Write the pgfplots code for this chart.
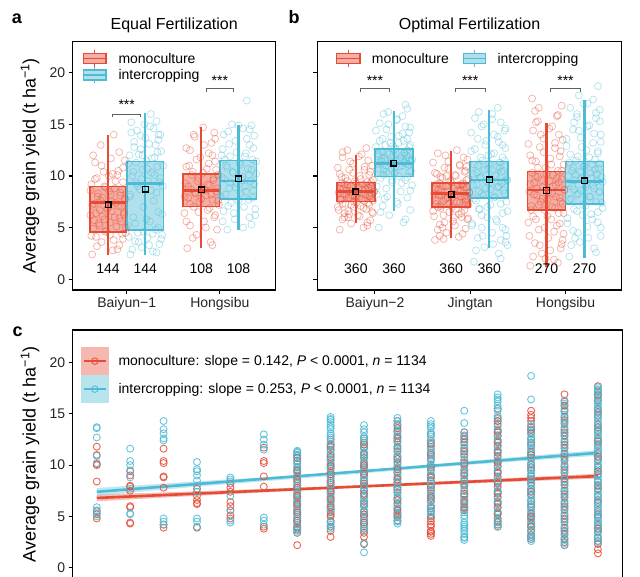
\documentclass[border=0pt]{standalone}
\usepackage{pgfplots}
\pgfplotsset{compat=1.18}
\usepackage{pgfplotstable}
\usepackage{fontspec}
\setmainfont{Liberation Sans}
\definecolor{cr}{RGB}{230,75,53}
\definecolor{cb}{RGB}{77,187,213}
\definecolor{brk}{RGB}{95,95,95}
\newcommand\fs{\fontsize{14}{16}\selectfont}

% ---------- panel a jitter data (dx = offset from group centre) ----------
\pgfplotstableread[row sep=\\]{dx y\\
-0.17 2.4\\ 0.05 2.8\\ 0.12 3.3\\ -0.07 3.6\\ 0.16 3.9\\ -0.13 4.1\\ 0.02 4.3\\ 0.19 4.5\\ -0.02 4.7\\ -0.16 4.9\\
0.09 5.1\\ -0.10 5.4\\ 0.14 5.6\\ -0.04 5.8\\ 0.07 6.0\\ -0.19 6.2\\ 0.17 6.5\\ -0.09 6.7\\ 0.00 6.9\\ 0.11 7.1\\
-0.15 7.3\\ 0.04 7.5\\ 0.18 7.7\\ -0.06 7.9\\ 0.13 8.1\\ -0.11 8.3\\ 0.01 8.5\\ 0.15 8.7\\ -0.03 8.9\\ -0.18 9.2\\
0.08 9.5\\ -0.12 9.8\\ 0.10 10.1\\ -0.05 10.4\\ 0.16 10.8\\ -0.14 11.3\\ 0.03 11.7\\ 0.12 12.3\\ -0.08 13.0\\ 0.06 14.0\\
0.10 2.9\\ -0.12 3.2\\ 0.06 3.8\\ -0.18 4.2\\ 0.15 4.4\\ -0.03 4.6\\ 0.19 5.0\\ -0.09 5.2\\ 0.02 5.5\\ -0.15 5.7\\
0.12 5.9\\ -0.06 6.1\\ 0.17 6.3\\ -0.13 6.4\\ 0.04 6.6\\ -0.01 6.8\\ 0.14 7.0\\ -0.17 7.2\\ 0.08 7.4\\ -0.08 7.6\\
0.18 7.8\\ -0.11 8.0\\ 0.03 8.2\\ 0.13 8.4\\ -0.19 8.6\\ 0.07 8.8\\ -0.04 9.0\\ 0.16 9.4\\ -0.14 9.7\\ 0.01 10.0\\
0.11 10.5\\ -0.07 11.0\\ 0.18 11.5\\ -0.16 12.0\\ 0.05 10.2\\
}\aBm
\pgfplotstableread[row sep=\\]{dx y\\
-0.16 2.4\\ 0.08 2.7\\ -0.04 3.1\\ 0.15 3.4\\ -0.11 3.7\\ 0.02 4.0\\ 0.18 4.3\\ -0.08 4.5\\ 0.11 4.8\\ -0.19 5.2\\
0.05 5.6\\ -0.13 6.0\\ 0.14 6.5\\ -0.02 7.0\\ 0.09 7.6\\ -0.17 8.0\\ 0.12 8.4\\ -0.06 8.7\\ 0.19 9.0\\ -0.10 9.3\\
0.03 9.5\\ 0.16 9.8\\ -0.14 10.0\\ 0.07 10.3\\ -0.03 10.6\\ 0.13 10.9\\ -0.18 11.2\\ 0.01 11.5\\ 0.10 11.8\\ -0.07 12.1\\
0.17 12.4\\ -0.12 12.8\\ 0.04 13.1\\ 0.14 13.5\\ -0.05 13.9\\ -0.15 14.2\\ 0.09 14.6\\ -0.01 15.0\\ 0.12 15.3\\ 0.06 16.0\\
0.12 2.6\\ -0.14 2.9\\ 0.04 3.3\\ -0.07 3.6\\ 0.17 3.9\\ -0.18 4.1\\ 0.08 4.4\\ -0.02 4.6\\ 0.14 5.0\\ -0.11 5.4\\
0.01 5.8\\ 0.18 6.3\\ -0.16 8.2\\ 0.06 8.6\\ -0.08 9.0\\ 0.15 9.4\\ -0.04 9.7\\ 0.10 10.1\\ -0.13 10.4\\ 0.02 10.7\\
0.19 11.0\\ -0.10 11.3\\ 0.07 11.7\\ -0.17 12.0\\ 0.13 12.3\\ -0.05 12.6\\ 0.11 13.0\\ -0.12 13.3\\ 0.00 13.7\\ 0.16 14.0\\
-0.09 14.4\\ 0.05 14.8\\ -0.15 15.2\\ 0.14 14.0\\ -0.03 12.0\\
}\aBi
\pgfplotstableread[row sep=\\]{dx y\\
-0.15 3.0\\ 0.10 3.6\\ -0.05 4.3\\ 0.17 4.8\\ -0.12 5.2\\ 0.03 5.6\\ 0.14 6.0\\ -0.18 6.4\\ 0.07 6.7\\ -0.08 7.0\\
0.19 7.2\\ -0.02 7.5\\ 0.12 7.7\\ -0.14 7.9\\ 0.05 8.1\\ -0.06 8.3\\ 0.16 8.5\\ -0.11 8.7\\ 0.01 8.9\\ 0.09 9.1\\
-0.17 9.3\\ 0.13 9.6\\ -0.03 9.8\\ 0.18 10.1\\ -0.09 10.4\\ 0.06 10.7\\ -0.13 11.0\\ 0.15 11.4\\ -0.01 11.8\\ 0.08 12.2\\
-0.16 12.7\\ 0.11 13.2\\ -0.07 13.8\\ 0.14 14.2\\ 0.02 14.7\\
0.12 3.3\\ -0.09 4.0\\ 0.05 5.0\\ -0.16 5.6\\ 0.15 6.2\\ -0.03 6.5\\ 0.09 6.9\\ -0.12 7.3\\ 0.18 7.6\\ 0.00 7.8\\
-0.18 8.0\\ 0.11 8.2\\ -0.07 8.4\\ 0.04 8.6\\ 0.17 8.8\\ -0.14 9.0\\ 0.07 9.2\\ -0.04 9.5\\ 0.13 9.8\\ -0.10 10.1\\
0.02 10.3\\ 0.16 10.6\\ -0.16 10.9\\ 0.08 11.2\\ -0.05 11.6\\ 0.12 12.0\\ -0.12 12.5\\ 0.03 13.0\\ 0.15 13.6\\ -0.08 14.0\\
}\aHm
\pgfplotstableread[row sep=\\]{dx y\\
-0.12 4.8\\ 0.14 5.3\\ -0.04 5.8\\ 0.18 6.2\\ -0.16 6.6\\ 0.06 7.0\\ -0.08 7.4\\ 0.11 7.7\\ -0.19 8.0\\ 0.02 8.3\\
0.16 8.6\\ -0.10 8.8\\ 0.07 9.0\\ -0.02 9.3\\ 0.13 9.5\\ -0.15 9.7\\ 0.04 9.9\\ 0.19 10.2\\ -0.06 10.4\\ 0.10 10.7\\
-0.13 11.0\\ 0.01 11.3\\ 0.15 11.6\\ -0.09 11.9\\ 0.08 12.2\\ -0.17 12.6\\ 0.12 13.0\\ -0.03 13.4\\ 0.17 13.9\\ -0.11 14.3\\
0.05 14.6\\ 0.14 14.9\\ -0.07 15.0\\ -0.18 12.0\\ 0.09 17.3\\
0.05 5.0\\ -0.17 5.6\\ 0.12 6.0\\ -0.05 6.4\\ 0.18 6.8\\ -0.11 7.1\\ 0.00 7.6\\ 0.15 7.9\\ -0.14 8.2\\ 0.08 8.5\\
-0.03 8.9\\ 0.17 9.2\\ -0.09 9.4\\ 0.04 9.6\\ -0.18 9.9\\ 0.11 10.1\\ -0.06 10.3\\ 0.14 10.6\\ -0.12 10.8\\ 0.02 11.1\\
0.19 11.4\\ -0.15 11.6\\ 0.07 11.9\\ -0.02 12.3\\ 0.16 12.7\\ -0.10 13.1\\ 0.09 13.6\\ -0.16 14.0\\ 0.12 14.5\\ 0.00 14.9\\
}\aHi
% ---------- panel b jitter data ----------
\pgfplotstableread[row sep=\\]{dx y\\
-0.17 4.8\\ 0.08 5.0\\ -0.05 5.4\\ 0.15 5.7\\ -0.12 6.0\\ 0.02 6.2\\ 0.18 6.4\\ -0.08 6.6\\ 0.11 6.8\\ -0.19 7.0\\
0.05 7.1\\ -0.14 7.3\\ 0.13 7.4\\ -0.02 7.5\\ 0.09 7.6\\ -0.16 7.7\\ 0.17 7.8\\ -0.06 7.9\\ 0.01 8.0\\ 0.14 8.1\\
-0.10 8.2\\ 0.06 8.3\\ -0.18 8.4\\ 0.19 8.5\\ -0.04 8.6\\ 0.10 8.7\\ -0.13 8.8\\ 0.03 8.9\\ 0.16 9.0\\ -0.09 9.1\\
0.07 9.2\\ -0.15 9.3\\ 0.12 9.4\\ -0.01 9.5\\ 0.18 9.6\\ -0.11 9.8\\ 0.04 10.0\\ -0.17 10.2\\ 0.15 10.4\\ -0.07 10.6\\
0.09 10.9\\ -0.03 11.2\\ 0.13 11.5\\ -0.14 11.8\\ 0.06 12.1\\ -0.09 12.5\\ 0.11 12.7\\ -0.12 6.4\\ 0.15 9.2\\ -0.05 7.2\\
0.12 5.2\\ -0.14 5.8\\ 0.04 6.1\\ -0.07 6.3\\ 0.17 6.5\\ -0.18 6.7\\ 0.08 6.9\\ -0.02 7.0\\ 0.14 7.2\\ -0.11 7.3\\
0.01 7.4\\ 0.18 7.6\\ -0.16 7.7\\ 0.06 7.8\\ -0.08 7.9\\ 0.15 8.0\\ -0.04 8.1\\ 0.10 8.2\\ -0.13 8.3\\ 0.02 8.4\\
0.19 8.5\\ -0.10 8.6\\ 0.07 8.7\\ -0.17 8.8\\ 0.13 8.9\\ -0.05 9.0\\ 0.11 9.1\\ -0.12 9.2\\ 0.00 9.3\\ 0.16 9.4\\
-0.09 9.5\\ 0.05 9.7\\ -0.15 9.9\\ 0.14 10.1\\ -0.03 10.3\\ 0.09 10.6\\ -0.19 10.8\\ 0.17 11.0\\ -0.06 11.4\\ 0.03 11.9\\
-0.14 12.3\\ 0.12 5.5\\ -0.08 6.0\\ 0.16 8.3\\ -0.01 8.0\\
}\bBm
\pgfplotstableread[row sep=\\]{dx y\\
-0.16 5.0\\ 0.10 5.5\\ -0.05 6.2\\ 0.17 6.7\\ -0.12 7.1\\ 0.03 7.5\\ 0.14 7.9\\ -0.18 8.2\\ 0.07 8.5\\ -0.08 8.8\\
0.19 9.1\\ -0.02 9.4\\ 0.12 9.6\\ -0.14 9.8\\ 0.05 10.0\\ -0.06 10.2\\ 0.16 10.4\\ -0.11 10.6\\ 0.01 10.8\\ 0.09 11.0\\
-0.17 11.1\\ 0.13 11.2\\ -0.03 11.3\\ 0.18 11.4\\ -0.09 11.5\\ 0.06 11.6\\ -0.13 11.7\\ 0.15 11.8\\ -0.01 11.9\\ 0.08 12.0\\
-0.16 12.1\\ 0.11 12.2\\ -0.07 12.3\\ 0.14 12.5\\ 0.02 12.6\\ -0.19 12.8\\ 0.17 13.0\\ -0.04 13.2\\ 0.10 13.4\\ -0.12 13.6\\
0.05 13.9\\ 0.16 14.2\\ -0.08 14.5\\ 0.12 14.8\\ -0.15 15.1\\ 0.03 15.4\\ 0.09 15.8\\ -0.06 16.2\\ 0.14 16.5\\ -0.10 7.8\\
0.12 5.8\\ -0.14 6.5\\ 0.04 7.3\\ -0.07 8.0\\ 0.17 8.6\\ -0.18 9.0\\ 0.08 9.3\\ -0.02 9.6\\ 0.14 9.9\\ -0.11 10.1\\
0.01 10.3\\ 0.18 10.5\\ -0.16 10.7\\ 0.06 10.9\\ -0.08 11.0\\ 0.15 11.1\\ -0.04 11.2\\ 0.10 11.3\\ -0.13 11.4\\ 0.02 11.5\\
0.19 11.6\\ -0.10 11.7\\ 0.07 11.8\\ -0.17 11.9\\ 0.13 12.0\\ -0.05 12.1\\ 0.11 12.2\\ -0.12 12.4\\ 0.00 12.6\\ 0.16 12.8\\
-0.09 13.0\\ 0.05 13.2\\ -0.15 13.4\\ 0.14 13.6\\ -0.03 13.8\\ 0.09 14.1\\ -0.19 14.4\\ 0.17 14.7\\ -0.06 15.0\\ 0.03 15.5\\
-0.11 16.0\\ 0.12 16.9\\ -0.08 10.4\\ 0.16 11.5\\ -0.01 12.9\\
}\bBi
\pgfplotstableread[row sep=\\]{dx y\\
-0.17 3.8\\ 0.08 4.1\\ -0.05 4.5\\ 0.15 4.9\\ -0.12 5.3\\ 0.02 5.6\\ 0.18 5.9\\ -0.08 6.2\\ 0.11 6.4\\ -0.19 6.6\\
0.05 6.8\\ -0.14 7.0\\ 0.13 7.1\\ -0.02 7.3\\ 0.09 7.4\\ -0.16 7.6\\ 0.17 7.7\\ -0.06 7.8\\ 0.01 7.9\\ 0.14 8.0\\
-0.10 8.1\\ 0.06 8.2\\ -0.18 8.3\\ 0.19 8.4\\ -0.04 8.5\\ 0.10 8.6\\ -0.13 8.7\\ 0.03 8.8\\ 0.16 8.9\\ -0.09 9.0\\
0.07 9.1\\ -0.15 9.2\\ 0.12 9.3\\ -0.01 9.5\\ 0.18 9.7\\ -0.11 9.9\\ 0.04 10.1\\ -0.17 10.3\\ 0.15 10.5\\ -0.07 10.8\\
0.09 11.1\\ -0.03 11.4\\ 0.13 11.8\\ -0.14 12.2\\ 0.06 12.5\\ -0.09 5.0\\ 0.11 6.0\\ -0.12 4.2\\ 0.15 7.5\\ -0.05 10.0\\
0.12 4.4\\ -0.14 4.8\\ 0.04 5.2\\ -0.07 5.5\\ 0.17 5.8\\ -0.18 6.1\\ 0.08 6.3\\ -0.02 6.5\\ 0.14 6.7\\ -0.11 6.9\\
0.01 7.0\\ 0.18 7.2\\ -0.16 7.3\\ 0.06 7.5\\ -0.08 7.6\\ 0.15 7.8\\ -0.04 7.9\\ 0.10 8.0\\ -0.13 8.2\\ 0.02 8.3\\
0.19 8.4\\ -0.10 8.5\\ 0.07 8.6\\ -0.17 8.8\\ 0.13 8.9\\ -0.05 9.0\\ 0.11 9.2\\ -0.12 9.3\\ 0.00 9.4\\ 0.16 9.6\\
-0.09 9.8\\ 0.05 10.0\\ -0.15 10.2\\ 0.14 10.4\\ -0.03 10.7\\ 0.09 11.0\\ -0.19 11.3\\ 0.17 11.6\\ -0.06 12.0\\ 0.03 6.0\\
-0.11 7.1\\ 0.12 9.1\\ -0.08 3.9\\ 0.16 10.9\\ -0.01 8.1\\
}\bJm
\pgfplotstableread[row sep=\\]{dx y\\
-0.16 1.7\\ 0.10 2.5\\ -0.05 3.1\\ 0.17 3.6\\ -0.12 4.0\\ 0.03 4.5\\ 0.14 5.0\\ -0.18 5.4\\ 0.07 5.8\\ -0.08 6.2\\
0.19 6.6\\ -0.02 7.0\\ 0.12 7.3\\ -0.14 7.6\\ 0.05 7.9\\ -0.06 8.1\\ 0.16 8.3\\ -0.11 8.5\\ 0.01 8.7\\ 0.09 8.9\\
-0.17 9.1\\ 0.13 9.3\\ -0.03 9.5\\ 0.18 9.7\\ -0.09 9.9\\ 0.06 10.1\\ -0.13 10.3\\ 0.15 10.5\\ -0.01 10.7\\ 0.08 10.9\\
-0.16 11.1\\ 0.11 11.3\\ -0.07 11.5\\ 0.14 11.8\\ 0.02 12.1\\ -0.19 12.4\\ 0.17 12.7\\ -0.04 13.0\\ 0.10 13.3\\ -0.12 13.6\\
0.05 14.0\\ 0.16 14.4\\ -0.08 14.8\\ 0.12 15.2\\ -0.15 15.6\\ 0.03 16.0\\ 0.09 16.6\\ 0.19 3.3\\ 0.18 4.2\\ -0.10 6.8\\
0.12 2.0\\ -0.14 2.8\\ 0.04 3.4\\ -0.07 4.2\\ 0.17 4.8\\ -0.18 5.2\\ 0.08 5.6\\ -0.02 6.0\\ 0.14 6.4\\ -0.11 6.8\\
0.01 7.2\\ 0.18 7.5\\ -0.16 7.8\\ 0.06 8.0\\ -0.08 8.3\\ 0.15 8.6\\ -0.04 8.8\\ 0.10 9.0\\ -0.13 9.2\\ 0.02 9.4\\
0.19 9.6\\ -0.10 9.8\\ 0.07 10.0\\ -0.17 10.2\\ 0.13 10.4\\ -0.05 10.6\\ 0.11 10.8\\ -0.12 11.0\\ 0.00 11.2\\ 0.16 11.5\\
-0.09 11.8\\ 0.05 12.2\\ -0.15 12.6\\ 0.14 13.0\\ -0.03 13.4\\ 0.09 13.8\\ -0.19 14.2\\ 0.17 14.6\\ -0.06 15.0\\ 0.03 15.5\\
-0.11 16.2\\ 0.12 3.8\\ -0.08 5.0\\ 0.16 9.5\\ -0.01 12.0\\
}\bJi
\pgfplotstableread[row sep=\\]{dx y\\
-0.17 1.3\\ 0.08 1.9\\ -0.05 2.5\\ 0.15 3.0\\ -0.12 3.5\\ 0.02 4.0\\ 0.18 4.4\\ -0.08 4.8\\ 0.11 5.2\\ -0.19 5.5\\
0.05 5.8\\ -0.14 6.1\\ 0.13 6.4\\ -0.02 6.7\\ 0.09 6.9\\ -0.16 7.1\\ 0.17 7.3\\ -0.06 7.5\\ 0.01 7.7\\ 0.14 7.9\\
-0.10 8.1\\ 0.06 8.3\\ -0.18 8.5\\ 0.19 8.7\\ -0.04 8.9\\ 0.10 9.1\\ -0.13 9.3\\ 0.03 9.5\\ 0.16 9.7\\ -0.09 9.9\\
0.07 10.1\\ -0.15 10.3\\ 0.12 10.5\\ -0.01 10.8\\ 0.18 11.1\\ -0.11 11.4\\ 0.04 11.7\\ -0.17 12.0\\ 0.15 12.4\\ -0.07 12.8\\
0.09 13.2\\ -0.03 13.6\\ 0.13 14.0\\ -0.14 14.4\\ 0.06 14.8\\ -0.09 15.3\\ 0.11 15.8\\ -0.12 16.3\\ 0.16 16.8\\ -0.15 17.5\\
0.12 1.6\\ -0.14 2.2\\ 0.04 2.8\\ -0.07 3.3\\ 0.17 3.8\\ -0.18 4.2\\ 0.08 4.6\\ -0.02 5.0\\ 0.14 5.4\\ -0.11 5.8\\
0.01 6.1\\ 0.18 6.4\\ -0.16 6.7\\ 0.06 7.0\\ -0.08 7.2\\ 0.15 7.5\\ -0.04 7.8\\ 0.10 8.0\\ -0.13 8.2\\ 0.02 8.4\\
0.19 8.6\\ -0.10 8.8\\ 0.07 9.0\\ -0.17 9.2\\ 0.13 9.4\\ -0.05 9.6\\ 0.11 9.8\\ -0.12 10.0\\ 0.00 10.2\\ 0.16 10.5\\
-0.09 10.8\\ 0.05 11.1\\ -0.15 11.5\\ 0.14 11.9\\ -0.03 12.3\\ 0.09 12.7\\ -0.19 13.1\\ 0.17 13.5\\ -0.06 14.0\\ 0.03 14.6\\
-0.11 15.2\\ 0.12 15.9\\ -0.08 16.6\\ 0.16 3.4\\ -0.01 2.0\\
}\bHm
\pgfplotstableread[row sep=\\]{dx y\\
-0.16 2.2\\ 0.10 3.0\\ -0.05 3.6\\ 0.17 4.2\\ -0.12 4.7\\ 0.03 5.1\\ 0.14 5.5\\ -0.18 5.9\\ 0.07 6.3\\ -0.08 6.6\\
0.19 6.9\\ -0.02 7.2\\ 0.12 7.5\\ -0.14 7.8\\ 0.05 8.0\\ -0.06 8.3\\ 0.16 8.5\\ -0.11 8.7\\ 0.01 8.9\\ 0.09 9.1\\
-0.17 9.3\\ 0.13 9.5\\ -0.03 9.7\\ 0.18 9.9\\ -0.09 10.1\\ 0.06 10.3\\ -0.13 10.5\\ 0.15 10.7\\ -0.01 10.9\\ 0.08 11.1\\
-0.16 11.3\\ 0.11 11.6\\ -0.07 11.9\\ 0.14 12.2\\ 0.02 12.5\\ -0.19 12.9\\ 0.17 13.3\\ -0.04 13.7\\ 0.10 14.1\\ -0.12 14.5\\
0.05 14.9\\ 0.16 15.3\\ -0.08 15.7\\ 0.12 16.1\\ -0.15 16.6\\ 0.03 17.0\\ 0.09 17.4\\ -0.06 17.8\\ 0.14 18.7\\ -0.10 4.0\\
0.12 2.6\\ -0.14 3.3\\ 0.04 4.0\\ -0.07 4.5\\ 0.17 5.0\\ -0.18 5.4\\ 0.08 5.8\\ -0.02 6.2\\ 0.14 6.5\\ -0.11 6.8\\
0.01 7.1\\ 0.18 7.4\\ -0.16 7.7\\ 0.06 8.0\\ -0.08 8.2\\ 0.15 8.4\\ -0.04 8.6\\ 0.10 8.8\\ -0.13 9.0\\ 0.02 9.2\\
0.19 9.4\\ -0.10 9.6\\ 0.07 9.8\\ -0.17 10.0\\ 0.13 10.2\\ -0.05 10.4\\ 0.11 10.6\\ -0.12 10.8\\ 0.00 11.0\\ 0.16 11.2\\
-0.09 11.5\\ 0.05 11.8\\ -0.15 12.1\\ 0.14 12.4\\ -0.03 12.8\\ 0.09 13.2\\ -0.19 13.6\\ 0.17 14.0\\ -0.06 14.4\\ 0.03 14.8\\
-0.11 15.2\\ 0.12 15.6\\ -0.08 16.0\\ 0.16 16.4\\ -0.01 17.0\\
}\bHi

\pgfplotsset{
  panel/.style={scale only axis, anchor=south west,
    axis line style={line width=1.2pt, black}, tick style={line width=1.1pt, black},
    tick align=outside, major tick length=4pt, xtick pos=bottom, ytick pos=left,
    ymin=-1.04, ymax=23, ytick={0,5,10,15,20},
    /pgf/number format/assume math mode=true,
    ticklabel style={font=\fs, text=black!85},
    ylabel style={anchor=center, font=\fontsize{18}{20}\selectfont},
  },
  jit/.style={only marks, mark=o, mark size=3.5pt, line width=0.75pt, opacity=0.42},
  cpt/.style={only marks, mark=o, mark size=3.5pt, line width=0.9pt, opacity=0.85},
}
% box: colour, centre, left, right, lower whisker, q1, median, q3, upper whisker
\newcommand\bx[9]{%
  \addplot[#1, line width=2.2pt] coordinates {(#2,#5)(#2,#9)};
  \addplot[draw=#1, fill=#1, fill opacity=0.45, line width=1.7pt] coordinates {(#3,#6)(#4,#6)(#4,#8)(#3,#8)} -- cycle;
  \addplot[#1, line width=2.7pt] coordinates {(#3,#7)(#4,#7)};
}
\newcommand\mn[2]{\addplot[black, only marks, mark=square, mark size=2.9pt, line width=1.2pt] coordinates {(#1,#2)};}

\begin{document}
\begin{tikzpicture}
% ================= panel a =================
\begin{axis}[panel, at={(72.7pt,286pt)}, width=203pt, height=248.3pt,
  xmin=0.42, xmax=2.6, xtick={1,2}, xticklabels={Baiyun−1,Hongsibu},
  ylabel={Average grain yield (t ha\textsuperscript{−1})},
  ylabel style={at={(axis description cs:-0.2103,0.5)}}]
\addplot[jit, cr] table[x expr=\thisrow{dx}+0.8, y=y] {\aBm};
\addplot[jit, cb] table[x expr=\thisrow{dx}+1.2, y=y] {\aBi};
\addplot[jit, cr] table[x expr=\thisrow{dx}+1.8, y=y] {\aHm};
\addplot[jit, cb] table[x expr=\thisrow{dx}+2.2, y=y] {\aHi};
\bx{cr}{0.8}{0.605}{0.995}{2.35}{4.55}{7.46}{8.97}{14.0}
\bx{cb}{1.2}{1.005}{1.395}{2.35}{4.78}{9.3}{11.4}{16.1}
\bx{cr}{1.8}{1.605}{1.995}{3.0}{7.03}{8.59}{10.2}{14.7}
\bx{cb}{2.2}{2.005}{2.395}{4.78}{7.75}{9.52}{11.5}{14.95}
\mn{0.8}{7.2}\mn{1.2}{8.72}\mn{1.8}{8.65}\mn{2.2}{9.72}
\addplot[brk, line width=0.7pt] coordinates {(0.85,15.7)(0.85,16.0)(1.15,16.0)(1.15,15.7)};
\addplot[brk, line width=0.7pt] coordinates {(1.85,18.15)(1.85,18.5)(2.15,18.5)(2.15,18.15)};
\node[font=\fs, anchor=base] at (axis cs:1,16.43) {***};
\node[font=\fs, anchor=base] at (axis cs:2,18.8) {***};
\node[font=\fs] at (axis cs:0.8,1) {144};
\node[font=\fs] at (axis cs:1.2,1) {144};
\node[font=\fs] at (axis cs:1.8,1) {108};
\node[font=\fs] at (axis cs:2.2,1) {108};
\end{axis}
% ================= panel b =================
\begin{axis}[panel, at={(317.3pt,286pt)}, width=304.4pt, height=248.3pt,
  xmin=0.395, xmax=3.59, xtick={1,2,3}, xticklabels={Baiyun−2,Jingtan,Hongsibu},
  yticklabels={}]
\addplot[jit, cr] table[x expr=\thisrow{dx}+0.8, y=y] {\bBm};
\addplot[jit, cb] table[x expr=\thisrow{dx}+1.2, y=y] {\bBi};
\addplot[jit, cr] table[x expr=\thisrow{dx}+1.8, y=y] {\bJm};
\addplot[jit, cb] table[x expr=\thisrow{dx}+2.2, y=y] {\bJi};
\addplot[jit, cr] table[x expr=\thisrow{dx}+2.8, y=y] {\bHm};
\addplot[jit, cb] table[x expr=\thisrow{dx}+3.2, y=y] {\bHi};
\bx{cr}{0.8}{0.6}{1.0}{5.43}{7.52}{8.49}{9.36}{12.04}
\bx{cb}{1.2}{1.0}{1.4}{6.65}{9.94}{11.24}{12.63}{16.3}
\bx{cr}{1.8}{1.6}{2.0}{3.97}{6.98}{8.33}{9.3}{12.37}
\bx{cb}{2.2}{2.0}{2.4}{3.0}{7.85}{9.62}{11.4}{16.4}
\bx{cr}{2.8}{2.6}{3.0}{1.2}{6.71}{8.65}{10.43}{15.1}
\bx{cb}{3.2}{3.0}{3.4}{2.1}{7.3}{9.46}{11.4}{17.4}
\mn{0.8}{8.46}\mn{1.2}{11.24}\mn{1.8}{8.24}\mn{2.2}{9.62}\mn{2.8}{8.62}\mn{3.2}{9.52}
\addplot[brk, line width=0.7pt] coordinates {(0.846,18.15)(0.846,18.5)(1.154,18.5)(1.154,18.15)};
\addplot[brk, line width=0.7pt] coordinates {(1.846,18.15)(1.846,18.5)(2.154,18.5)(2.154,18.15)};
\addplot[brk, line width=0.7pt] coordinates {(2.846,18.15)(2.846,18.5)(3.154,18.5)(3.154,18.15)};
\node[font=\fs, anchor=base] at (axis cs:1,18.8) {***};
\node[font=\fs, anchor=base] at (axis cs:2,18.8) {***};
\node[font=\fs, anchor=base] at (axis cs:3,18.8) {***};
\node[font=\fs] at (axis cs:0.8,1) {360};
\node[font=\fs] at (axis cs:1.2,1) {360};
\node[font=\fs] at (axis cs:1.8,1) {360};
\node[font=\fs] at (axis cs:2.2,1) {360};
\node[font=\fs] at (axis cs:2.8,1) {270};
\node[font=\fs] at (axis cs:3.2,1) {270};
\end{axis}
% ================= panel c =================
\begin{axis}[panel, at={(72.7pt,-2.4pt)}, width=549.6pt, height=248.4pt,
  xmin=0.28, xmax=16.73, ymin=-1.04, ymax=23.17, xtick=\empty,
  ylabel={Average grain yield (t ha\textsuperscript{−1})},
  ylabel style={at={(axis description cs:-0.0777,0.5)}}]
% monoculture points
\addplot[cpt, cr] coordinates {
(1,11.8)(1,11.0)(1,10.1)(1,10.0)(1,8.4)(1,5.5)(1,5.2)(1,4.8)
(2,9.4)(2,9.0)(2,8.0)(2,7.9)(2,7.5)(2,6.0)(2,5.9)(2,4.4)(2,4.3)
(3,11.6)(3,10.4)(3,10.2)(3,8.9)(3,8.8)(3,7.8)(3,4.2)(3,3.9)
(4,7.7)(4,7.0)(4,6.6)(4,6.3)(4,6.2)(4,3.9)
(5,8.2)(5,7.8)(5,7.4)(5,6.4)(5,6.0)(5,5.6)(5,5.1)(5,4.8)
(6,11.7)(6,10.4)(6,10.2)(6,8.9)(6,7.9)(6,4.0)(6,3.8)
(7,11.0)(7,10.4)(7,9.8)(7,9.3)(7,8.9)(7,8.4)(7,8.0)(7,7.6)(7,7.2)(7,6.8)(7,6.4)(7,6.0)(7,5.6)(7,5.2)(7,4.8)(7,4.4)(7,4.0)(7,3.7)(7,3.4)(7,2.2)
(8,12.5)(8,12.0)(8,11.5)(8,11.0)(8,10.5)(8,10.1)(8,9.7)(8,9.3)(8,8.9)(8,8.5)(8,8.1)(8,7.7)(8,7.3)(8,6.9)(8,6.5)(8,6.1)(8,5.7)(8,5.4)(8,5.2)(8,4.5)(8,3.6)(8,3.0)
(9,12.6)(9,12.2)(9,11.7)(9,11.2)(9,10.7)(9,10.2)(9,9.8)(9,9.4)(9,9.0)(9,8.5)(9,8.0)(9,7.5)(9,7.0)(9,6.5)(9,6.0)(9,5.5)(9,5.0)(9,4.6)(9,4.2)(9,3.8)(9,3.0)(9,2.3)
(10,14.3)(10,13.9)(10,13.3)(10,12.8)(10,12.3)(10,11.8)(10,11.3)(10,10.8)(10,10.3)(10,9.8)(10,9.3)(10,8.8)(10,8.3)(10,7.8)(10,7.3)(10,6.8)(10,6.3)(10,5.8)(10,5.3)(10,4.9)(10,4.6)
(11,13.0)(11,12.4)(11,11.8)(11,11.2)(11,10.6)(11,10.0)(11,9.5)(11,9.0)(11,8.5)(11,8.0)(11,7.5)(11,7.0)(11,6.5)(11,6.0)(11,5.5)(11,5.0)(11,4.5)(11,4.0)(11,3.6)(11,3.3)(11,3.1)
(12,13.2)(12,12.8)(12,12.2)(12,11.6)(12,11.0)(12,10.5)(12,10.0)(12,9.5)(12,9.0)(12,8.5)(12,8.0)(12,7.5)(12,7.0)(12,6.6)(12,6.2)(12,5.9)(12,5.6)
(13,15.5)(13,14.6)(13,14.0)(13,13.4)(13,12.9)(13,12.4)(13,11.9)(13,11.4)(13,10.9)(13,10.4)(13,9.9)(13,9.4)(13,8.9)(13,8.4)(13,7.9)(13,7.4)(13,6.9)(13,6.4)(13,5.9)(13,5.4)(13,4.8)(13,4.2)(13,4.0)
(14,15.3)(14,14.9)(14,14.3)(14,13.7)(14,13.1)(14,12.5)(14,11.9)(14,11.3)(14,10.7)(14,10.1)(14,9.5)(14,8.9)(14,8.3)(14,7.7)(14,7.1)(14,6.5)(14,5.9)(14,5.3)(14,4.8)(14,4.3)(14,3.6)(14,3.0)(14,2.8)
(15,16.9)(15,16.2)(15,15.3)(15,14.7)(15,14.1)(15,13.5)(15,12.9)(15,12.3)(15,11.7)(15,11.1)(15,10.5)(15,9.9)(15,9.3)(15,8.7)(15,8.1)(15,7.5)(15,6.9)(15,6.3)(15,5.7)(15,5.1)(15,4.5)(15,3.9)(15,3.3)(15,2.8)(15,2.2)
(16,17.7)(16,17.2)(16,16.3)(16,15.5)(16,14.8)(16,14.0)(16,13.3)(16,12.6)(16,11.9)(16,11.2)(16,10.5)(16,9.8)(16,9.1)(16,8.4)(16,7.7)(16,7.0)(16,6.3)(16,5.6)(16,4.9)(16,4.2)(16,3.5)(16,2.9)(16,2.3)(16,1.4)
};
% intercropping points
\addplot[cpt, cb] coordinates {
(1,13.7)(1,13.6)(1,12.7)(1,10.9)(1,10.2)(1,5.9)(1,5.6)(1,5.3)(1,5.0)
(2,11.6)(2,10.4)(2,10.0)(2,9.5)(2,8.8)(2,7.7)(2,5.3)(2,5.2)
(3,14.3)(3,13.5)(3,13.1)(3,12.6)(3,12.4)(3,4.8)(3,4.5)(3,4.2)
(4,10.3)(4,9.6)(4,9.4)(4,9.0)(4,8.5)(4,8.0)(4,7.4)(4,4.8)(4,4.5)(4,4.0)
(5,8.8)(5,8.6)(5,8.4)(5,7.0)(5,5.6)(5,4.6)(5,4.4)
(6,13.0)(6,12.5)(6,12.0)(6,11.5)(6,4.9)(6,4.6)(6,4.2)
(7,11.4)(7,11.2)(7,11.0)(7,10.7)(7,10.4)(7,10.1)(7,9.8)(7,9.4)(7,9.0)(7,8.6)(7,8.2)(7,7.8)(7,7.4)(7,7.0)(7,6.6)(7,6.2)(7,5.8)(7,5.4)(7,5.0)(7,4.6)(7,4.2)(7,3.8)(7,3.4)
(8,14.7)(8,14.5)(8,14.2)(8,13.9)(8,13.5)(8,13.1)(8,12.7)(8,12.3)(8,11.9)(8,11.5)(8,11.1)(8,10.7)(8,10.3)(8,9.9)(8,9.5)(8,9.1)(8,8.7)(8,8.3)(8,7.9)(8,7.5)(8,7.1)(8,6.7)(8,6.3)(8,5.9)(8,5.5)(8,4.6)(8,4.2)(8,3.8)
(9,13.9)(9,13.2)(9,12.8)(9,12.4)(9,12.0)(9,11.6)(9,11.2)(9,10.8)(9,10.4)(9,10.0)(9,9.6)(9,9.2)(9,8.8)(9,8.4)(9,8.0)(9,7.6)(9,7.2)(9,6.8)(9,6.4)(9,6.0)(9,5.6)(9,5.2)(9,4.8)(9,4.4)(9,4.0)(9,3.6)(9,2.4)(9,1.5)
(10,14.6)(10,14.3)(10,13.8)(10,13.4)(10,13.0)(10,12.6)(10,12.2)(10,11.8)(10,11.4)(10,11.0)(10,10.6)(10,10.2)(10,9.8)(10,9.4)(10,9.0)(10,8.6)(10,8.2)(10,7.8)(10,7.4)(10,7.0)(10,6.6)(10,6.2)(10,5.8)(10,5.4)(10,5.0)(10,4.6)(10,4.3)
(11,14.3)(11,14.0)(11,13.6)(11,13.2)(11,12.8)(11,12.4)(11,12.0)(11,11.6)(11,11.2)(11,10.8)(11,10.4)(11,10.0)(11,9.6)(11,9.2)(11,8.8)(11,8.4)(11,8.0)(11,7.6)(11,7.2)(11,6.8)(11,6.4)(11,6.0)(11,5.6)(11,5.2)(11,5.0)
(12,15.3)(12,14.1)(12,13.2)(12,12.6)(12,12.0)(12,11.4)(12,10.8)(12,10.2)(12,9.6)(12,9.0)(12,8.4)(12,7.8)(12,7.2)(12,6.6)(12,6.0)(12,5.4)(12,4.8)(12,4.4)(12,4.0)(12,3.6)(12,3.3)(12,3.0)(12,2.7)
(13,16.9)(13,16.6)(13,16.2)(13,15.8)(13,15.3)(13,14.8)(13,14.3)(13,13.8)(13,13.3)(13,12.8)(13,12.3)(13,11.8)(13,11.3)(13,10.8)(13,10.3)(13,9.8)(13,9.3)(13,8.8)(13,8.3)(13,7.8)(13,7.3)(13,6.8)(13,6.3)(13,5.8)(13,5.3)(13,4.8)(13,4.4)(13,4.0)
(14,18.7)(14,16.4)(14,14.0)(14,13.5)(14,13.0)(14,12.5)(14,12.0)(14,11.5)(14,11.0)(14,10.5)(14,10.0)(14,9.5)(14,9.0)(14,8.5)(14,8.0)(14,7.5)(14,7.0)(14,6.5)(14,6.0)(14,5.5)(14,5.0)(14,4.5)(14,4.0)(14,3.5)(14,3.0)(14,2.6)
(15,16.3)(15,15.8)(15,15.2)(15,14.6)(15,14.0)(15,13.4)(15,12.8)(15,12.2)(15,11.6)(15,11.0)(15,10.4)(15,9.8)(15,9.2)(15,8.6)(15,8.0)(15,7.4)(15,6.8)(15,6.2)(15,5.6)(15,5.0)(15,4.4)(15,3.8)(15,3.2)(15,2.7)(15,2.2)
(16,17.6)(16,17.3)(16,16.9)(16,16.4)(16,15.9)(16,15.4)(16,14.9)(16,14.4)(16,13.9)(16,13.4)(16,12.9)(16,12.4)(16,11.9)(16,11.4)(16,10.9)(16,10.4)(16,9.9)(16,9.4)(16,8.9)(16,8.4)(16,7.9)(16,7.4)(16,6.9)(16,6.4)(16,5.9)(16,5.4)(16,4.9)(16,4.4)(16,3.9)(16,3.4)(16,2.9)(16,2.4)
};
% further monoculture points in the dense columns
\addplot[cpt, cr] coordinates {
(7,10.7)(7,9.5)(7,8.6)(7,7.8)(7,7.0)(7,6.2)(7,5.4)(7,4.6)(7,3.9)
(8,11.8)(8,10.8)(8,9.9)(8,9.1)(8,8.3)(8,7.5)(8,6.7)(8,5.9)(8,5.0)(8,4.0)
(9,12.0)(9,11.0)(9,10.0)(9,9.2)(9,8.2)(9,7.2)(9,6.2)(9,5.2)(9,4.4)(9,3.4)
(10,13.6)(10,12.6)(10,11.6)(10,10.6)(10,9.6)(10,8.6)(10,7.6)(10,6.6)(10,5.6)(10,5.1)
(11,12.1)(11,11.0)(11,9.8)(11,8.8)(11,7.8)(11,6.8)(11,5.8)(11,4.8)(11,4.2)(11,3.5)
(12,12.5)(12,11.3)(12,10.2)(12,9.2)(12,8.2)(12,7.2)(12,6.4)(12,5.8)
(13,14.3)(13,13.2)(13,12.2)(13,11.2)(13,10.2)(13,9.2)(13,8.2)(13,7.2)(13,6.2)(13,5.2)(13,4.5)
(14,14.6)(14,13.4)(14,12.2)(14,11.0)(14,9.8)(14,8.6)(14,7.4)(14,6.2)(14,5.0)(14,4.0)(14,3.2)
(15,15.8)(15,14.4)(15,13.2)(15,12.0)(15,10.8)(15,9.6)(15,8.4)(15,7.2)(15,6.0)(15,4.8)(15,3.6)(15,2.5)
(16,16.8)(16,15.2)(16,13.7)(16,12.3)(16,10.8)(16,9.4)(16,8.0)(16,6.6)(16,5.2)(16,3.8)(16,2.6)(16,1.8)
};
% further intercropping points in the dense columns
\addplot[cpt, cb] coordinates {
(7,11.3)(7,10.9)(7,10.2)(7,9.6)(7,8.8)(7,8.0)(7,7.2)(7,6.4)(7,5.6)(7,4.8)(7,4.0)(7,3.6)
(8,14.4)(8,13.7)(8,12.9)(8,12.1)(8,11.3)(8,10.5)(8,9.7)(8,8.9)(8,8.1)(8,7.3)(8,6.5)(8,5.7)(8,4.4)(8,4.0)
(9,13.5)(9,12.6)(9,11.8)(9,11.0)(9,10.2)(9,9.4)(9,8.6)(9,7.8)(9,7.0)(9,6.2)(9,5.4)(9,4.6)(9,3.8)
(10,14.0)(10,13.2)(10,12.4)(10,11.6)(10,10.8)(10,10.0)(10,9.2)(10,8.4)(10,7.6)(10,6.8)(10,6.0)(10,5.2)(10,4.5)
(11,13.8)(11,13.0)(11,12.2)(11,11.4)(11,10.6)(11,9.8)(11,9.0)(11,8.2)(11,7.4)(11,6.6)(11,5.8)(11,5.4)
(12,12.9)(12,12.3)(12,11.7)(12,11.1)(12,10.5)(12,9.9)(12,9.3)(12,8.7)(12,8.1)(12,7.5)(12,6.9)(12,6.3)(12,5.7)(12,5.1)(12,4.2)(12,3.8)(12,2.9)
(13,16.4)(13,15.5)(13,14.5)(13,13.5)(13,12.5)(13,11.5)(13,10.5)(13,9.5)(13,8.5)(13,7.5)(13,6.5)(13,5.5)(13,4.6)(13,4.2)
(14,13.8)(14,13.2)(14,12.7)(14,12.2)(14,11.7)(14,11.2)(14,10.7)(14,10.2)(14,9.7)(14,9.2)(14,8.7)(14,8.2)(14,7.7)(14,7.2)(14,6.7)(14,6.2)(14,5.7)(14,5.2)(14,4.7)(14,4.2)(14,3.7)(14,3.2)(14,2.8)
(15,16.0)(15,15.5)(15,14.9)(15,14.3)(15,13.7)(15,13.1)(15,12.5)(15,11.9)(15,11.3)(15,10.7)(15,10.1)(15,9.5)(15,8.9)(15,8.3)(15,7.7)(15,7.1)(15,6.5)(15,5.9)(15,5.3)(15,4.7)(15,4.1)(15,3.5)(15,2.9)(15,2.4)
(16,17.4)(16,17.1)(16,16.6)(16,16.1)(16,15.6)(16,15.1)(16,14.6)(16,14.1)(16,13.6)(16,13.1)(16,12.6)(16,12.1)(16,11.6)(16,11.1)(16,10.6)(16,10.1)(16,9.6)(16,9.1)(16,8.6)(16,8.1)(16,7.6)(16,7.1)(16,6.6)(16,6.1)(16,5.6)(16,5.1)(16,4.6)(16,4.1)(16,3.6)(16,3.1)(16,2.6)
};
% confidence ribbons
\addplot[draw=none, fill=cr, fill opacity=0.35] coordinates {(1,7.13)(4,7.45)(8.5,7.99)(12,8.52)(16,9.17)(16,8.69)(12,8.20)(8.5,7.75)(4,7.01)(1,6.47)} -- cycle;
\addplot[draw=none, fill=cb, fill opacity=0.35] coordinates {(1,7.78)(4,8.42)(8.5,9.33)(12,10.36)(16,11.47)(16,10.92)(12,10.0)(8.5,9.07)(4,7.9)(1,7.02)} -- cycle;
% fitted lines
\addplot[cr, line width=2.6pt] coordinates {(1,6.8)(16,8.93)};
\addplot[cb, line width=2.6pt] coordinates {(1,7.4)(16,11.195)};
\end{axis}

% ---------- titles and panel letters ----------
\node[font=\fontsize{16}{18}\selectfont, anchor=base] at (174.2pt,546.7pt) {Equal Fertilization};
\node[font=\fontsize{16}{18}\selectfont, anchor=base] at (469.5pt,546.7pt) {Optimal Fertilization};
\node[font=\fontsize{18}{20}\selectfont\bfseries, anchor=base west, inner sep=0pt] at (11.7pt,552.7pt) {a};
\node[font=\fontsize{18}{20}\selectfont\bfseries, anchor=base west, inner sep=0pt] at (288.3pt,552.7pt) {b};
\node[font=\fontsize{18}{20}\selectfont\bfseries, anchor=base west, inner sep=0pt] at (12.5pt,239.3pt) {c};

% ---------- legend of panel a ----------
\fill[cr, fill opacity=0.45] (83.3pt,512.7pt) rectangle (106pt,522.7pt);
\draw[cr, line width=1.5pt] (83.3pt,512.7pt) rectangle (106pt,522.7pt);
\draw[cr, line width=1.5pt] (94.7pt,509.3pt) -- (94.7pt,512.7pt) (94.7pt,522.7pt) -- (94.7pt,526pt);
\draw[cr, line width=1.5pt] (83.3pt,517.7pt) -- (106pt,517.7pt);
\node[font=\fs, anchor=base west, inner sep=0pt] at (118.3pt,512pt) {monoculture};
\fill[cb, fill opacity=0.45] (83.3pt,496pt) rectangle (106pt,506pt);
\draw[cb, line width=1.5pt] (83.3pt,496pt) rectangle (106pt,506pt);
\draw[cb, line width=1.5pt] (94.7pt,492.6pt) -- (94.7pt,496pt) (94.7pt,506pt) -- (94.7pt,509.3pt);
\draw[cb, line width=1.5pt] (83.3pt,501pt) -- (106pt,501pt);
\node[font=\fs, anchor=base west, inner sep=0pt] at (118.3pt,496pt) {intercropping};
% ---------- legend of panel b ----------
\fill[cr, fill opacity=0.45] (336.7pt,512.7pt) rectangle (360pt,522.7pt);
\draw[cr, line width=1.5pt] (336.7pt,512.7pt) rectangle (360pt,522.7pt);
\draw[cr, line width=1.5pt] (348.3pt,509.3pt) -- (348.3pt,512.7pt) (348.3pt,522.7pt) -- (348.3pt,526pt);
\draw[cr, line width=1.5pt] (336.7pt,517.7pt) -- (360pt,517.7pt);
\node[font=\fs, anchor=base west, inner sep=0pt] at (371.7pt,512pt) {monoculture};
\fill[cb, fill opacity=0.45] (463.3pt,512.7pt) rectangle (485.7pt,522.7pt);
\draw[cb, line width=1.5pt] (463.3pt,512.7pt) rectangle (485.7pt,522.7pt);
\draw[cb, line width=1.5pt] (474.5pt,509.3pt) -- (474.5pt,512.7pt) (474.5pt,522.7pt) -- (474.5pt,526pt);
\draw[cb, line width=1.5pt] (463.3pt,517.7pt) -- (485.7pt,517.7pt);
\node[font=\fs, anchor=base west, inner sep=0pt] at (497.3pt,512pt) {intercropping};
% ---------- legend of panel c ----------
\fill[cr, fill opacity=0.4] (80.7pt,201pt) rectangle (109pt,228.7pt);
\fill[cb, fill opacity=0.4] (80.7pt,172.7pt) rectangle (109pt,201pt);
\draw[cr, line width=2.6pt] (84pt,214.85pt) -- (106pt,214.85pt);
\draw[cr, line width=0.8pt] (94.85pt,214.85pt) circle (3.3pt);
\draw[cb, line width=2.6pt] (84pt,186.85pt) -- (106pt,186.85pt);
\draw[cb, line width=0.8pt] (94.85pt,186.85pt) circle (3.3pt);
\node[font=\fs, anchor=base west, inner sep=0pt] at (118.3pt,210.3pt) {monoculture: slope = 0.142, \textit{P} < 0.0001, \textit{n} = 1134};
\node[font=\fs, anchor=base west, inner sep=0pt] at (118.3pt,182pt) {intercropping: slope = 0.253, \textit{P} < 0.0001, \textit{n} = 1134};

\pgfresetboundingbox
\path[use as bounding box] (0pt,0pt) rectangle (640pt,576pt);
\end{tikzpicture}
\end{document}
